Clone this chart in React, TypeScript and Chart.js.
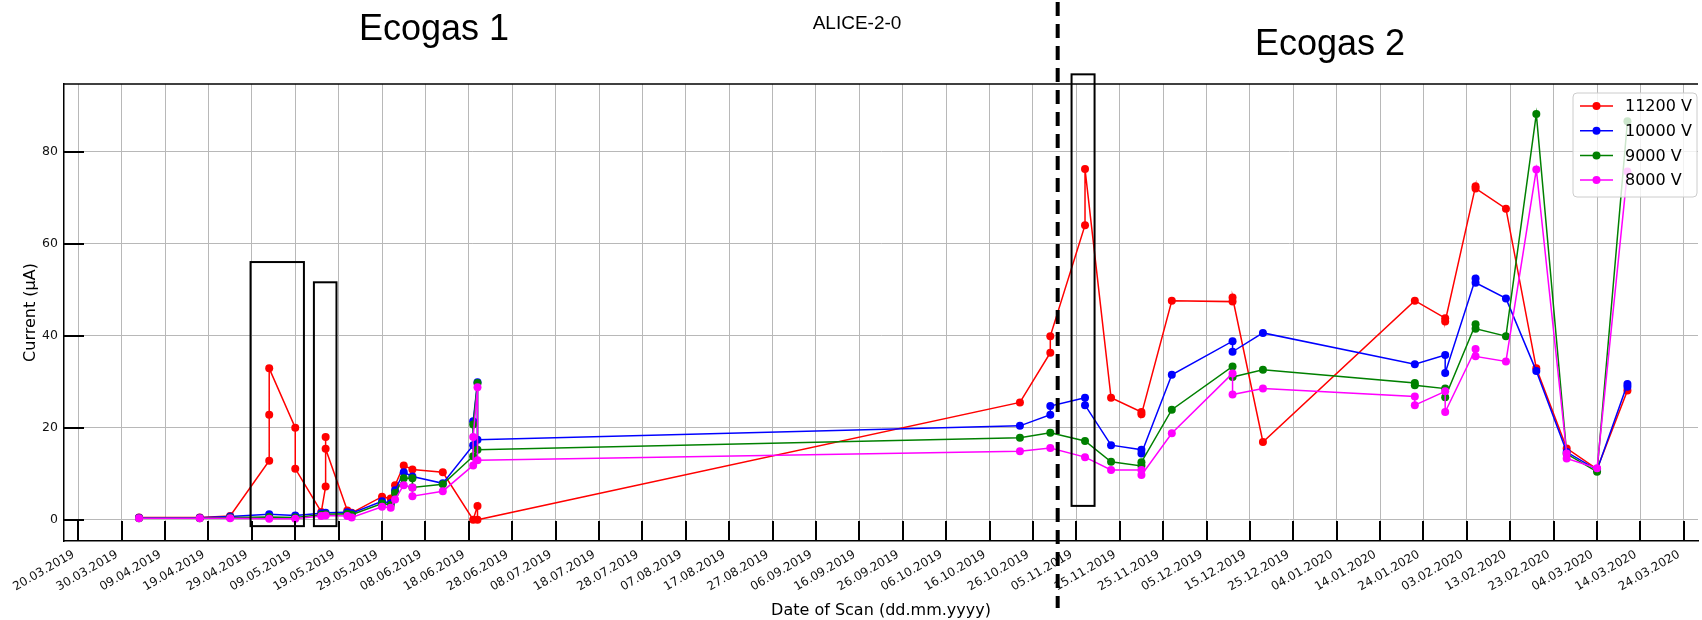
import React, { useEffect, useRef } from "react";
import { Chart, registerables } from "chart.js";

Chart.register(...registerables);

// ---------------- data ----------------
const axisStartDate = "20.03.2019";
const tickStepDays = 10;
const tickCount = 38;
const yTickValues = [0, 20, 40, 60, 80];

const seriesNames = ["11200 V", "10000 V", "9000 V", "8000 V"];
const seriesColors = ["#ff0000", "#0000ff", "#008000", "#ff00ff"];

const dates11200 = [
  "03.04.2019", "17.04.2019", "24.04.2019", "03.05.2019", "03.05.2019", "03.05.2019",
  "09.05.2019", "09.05.2019", "15.05.2019", "16.05.2019", "16.05.2019", "16.05.2019",
  "21.05.2019", "22.05.2019", "29.05.2019", "31.05.2019", "01.06.2019", "03.06.2019",
  "05.06.2019", "12.06.2019", "19.06.2019", "20.06.2019", "20.06.2019", "23.10.2019",
  "30.10.2019", "30.10.2019", "07.11.2019", "07.11.2019", "13.11.2019", "20.11.2019",
  "20.11.2019", "27.11.2019", "11.12.2019", "11.12.2019", "18.12.2019", "22.01.2020",
  "29.01.2020", "29.01.2020", "05.02.2020", "05.02.2020", "12.02.2020", "19.02.2020",
  "26.02.2020", "04.03.2020", "11.03.2020",
];
const values11200 = [
  0.5, 0.5, 0.8, 12.8, 22.8, 32.9,
  20.0, 11.1, 1.7, 7.2, 18.0, 15.4,
  2.0, 1.5, 5.0, 4.6, 7.5, 11.8,
  10.9, 10.3, 0.0, 3.0, 0.0, 25.5,
  36.3, 39.9, 64.0, 76.2, 26.5, 23.4,
  22.9, 47.6, 47.4, 48.3, 16.9, 47.6,
  43.8, 43.1, 72.5, 72.0, 67.6, 32.9,
  15.5, 11.0, 28.1,
];

const dates10000 = [
  "03.04.2019", "17.04.2019", "24.04.2019", "03.05.2019", "09.05.2019", "15.05.2019",
  "16.05.2019", "21.05.2019", "22.05.2019", "29.05.2019", "31.05.2019", "01.06.2019",
  "03.06.2019", "05.06.2019", "12.06.2019", "19.06.2019", "19.06.2019", "20.06.2019",
  "20.06.2019", "23.10.2019", "30.10.2019", "30.10.2019", "07.11.2019", "07.11.2019",
  "13.11.2019", "20.11.2019", "20.11.2019", "27.11.2019", "11.12.2019", "11.12.2019",
  "18.12.2019", "22.01.2020", "29.01.2020", "29.01.2020", "05.02.2020", "05.02.2020",
  "12.02.2020", "19.02.2020", "26.02.2020", "04.03.2020", "11.03.2020", "11.03.2020",
];
const values10000 = [
  0.4, 0.4, 0.7, 1.2, 0.9, 1.4,
  1.5, 1.6, 1.4, 4.0, 3.6, 6.4,
  10.3, 9.4, 7.9, 16.2, 21.4, 29.9,
  17.4, 20.4, 22.8, 24.7, 26.5, 24.9,
  16.2, 15.2, 14.4, 31.5, 38.8, 36.5,
  40.6, 33.8, 35.8, 31.9, 52.4, 51.5,
  48.1, 32.3, 14.7, 10.8, 29.5, 28.9,
];

const dates9000 = [
  "03.04.2019", "17.04.2019", "24.04.2019", "03.05.2019", "09.05.2019", "15.05.2019",
  "16.05.2019", "21.05.2019", "22.05.2019", "29.05.2019", "31.05.2019", "01.06.2019",
  "03.06.2019", "05.06.2019", "05.06.2019", "12.06.2019", "19.06.2019", "19.06.2019",
  "20.06.2019", "20.06.2019", "23.10.2019", "30.10.2019", "07.11.2019", "13.11.2019",
  "20.11.2019", "20.11.2019", "27.11.2019", "11.12.2019", "11.12.2019", "18.12.2019",
  "22.01.2020", "22.01.2020", "29.01.2020", "29.01.2020", "05.02.2020", "05.02.2020",
  "12.02.2020", "19.02.2020", "26.02.2020", "04.03.2020", "11.03.2020",
];
const values9000 = [
  0.3, 0.3, 0.5, 0.6, 0.5, 1.1,
  1.2, 1.3, 1.1, 3.5, 3.2, 5.8,
  9.0, 9.0, 7.0, 7.7, 13.8, 20.7,
  29.7, 15.2, 17.8, 18.9, 17.1, 12.6,
  11.7, 12.5, 23.9, 33.3, 31.0, 32.6,
  29.7, 29.2, 28.5, 26.6, 42.5, 41.5,
  39.9, 88.2, 14.3, 10.4, 86.6,
];

const dates8000 = [
  "03.04.2019", "17.04.2019", "24.04.2019", "03.05.2019", "09.05.2019", "15.05.2019",
  "16.05.2019", "21.05.2019", "22.05.2019", "29.05.2019", "31.05.2019", "01.06.2019",
  "03.06.2019", "05.06.2019", "05.06.2019", "12.06.2019", "19.06.2019", "19.06.2019",
  "20.06.2019", "20.06.2019", "23.10.2019", "30.10.2019", "07.11.2019", "13.11.2019",
  "20.11.2019", "20.11.2019", "27.11.2019", "11.12.2019", "11.12.2019", "18.12.2019",
  "22.01.2020", "22.01.2020", "29.01.2020", "29.01.2020", "05.02.2020", "05.02.2020",
  "12.02.2020", "19.02.2020", "26.02.2020", "26.02.2020", "04.03.2020", "11.03.2020",
];
const values8000 = [
  0.3, 0.3, 0.3, 0.2, 0.2, 0.8,
  0.9, 0.8, 0.5, 2.8, 2.6, 4.4,
  7.5, 7.0, 5.1, 6.2, 11.8, 18.0,
  28.8, 12.9, 14.9, 15.6, 13.6, 10.8,
  10.8, 9.7, 18.8, 31.8, 27.2, 28.5,
  26.8, 24.9, 27.9, 23.4, 37.1, 35.5,
  34.4, 76.1, 14.4, 13.3, 11.2, 75.7,
];

// annotation boxes in data units: [dayFrom, dayTo, valueFrom, valueTo]
const boxDays = [
  [39.7, 52.0, -1.4, 56.0],
  [54.3, 59.5, -1.4, 51.6],
  [228.9, 234.2, 3.0, 96.8],
];
const gasSwitchDay = 225.7;

// ---------------- helpers ----------------
const DAY = 86400000;
const parseDate = (s: string) => {
  const [d, m, y] = s.split(".").map(Number);
  return Date.UTC(y, m - 1, d);
};
const baseMs = parseDate(axisStartDate);
const toDay = (s: string) => (parseDate(s) - baseMs) / DAY;
const fmtDay = (v: number) => {
  const dt = new Date(baseMs + Math.round(v) * DAY);
  const dd = String(dt.getUTCDate()).padStart(2, "0");
  const mm = String(dt.getUTCMonth() + 1).padStart(2, "0");
  return `${dd}.${mm}.${dt.getUTCFullYear()}`;
};
const tickDays = Array.from({ length: tickCount }, (_, i) => i * tickStepDays);

const seriesDates = [dates11200, dates10000, dates9000, dates8000];
const seriesValues = [values11200, values10000, values9000, values8000];

const FONT = "'DejaVu Sans', sans-serif";
const XLABEL_SIZE = 12;
const XLABEL_ROT = (30 * Math.PI) / 180;
const GRID = "#b8b8b8";

const overlayPlugin = {
  id: "overlay",
  afterDatasetsDraw(chart: any) {
    const { ctx, chartArea: a, scales } = chart;
    const x = scales.x;
    const y = scales.y;
    ctx.save();
    ctx.strokeStyle = "#000";
    ctx.lineWidth = 1.5;
    ctx.beginPath();
    ctx.moveTo(a.left, a.top);
    ctx.lineTo(a.right, a.top);
    ctx.stroke();
    ctx.lineWidth = 2;
    ctx.beginPath();
    for (const t of x.ticks) {
      const px = Math.round(x.getPixelForValue(t.value));
      ctx.moveTo(px, a.bottom);
      ctx.lineTo(px, a.bottom - 20);
    }
    for (const t of y.ticks) {
      const py = Math.round(y.getPixelForValue(t.value));
      ctx.moveTo(a.left, py);
      ctx.lineTo(a.left + 20, py);
    }
    ctx.stroke();

    // rotated x tick labels (right/top aligned bounding box, like matplotlib)
    ctx.font = `${XLABEL_SIZE}px ${FONT}`;
    ctx.fillStyle = "#111";
    ctx.textAlign = "center";
    ctx.textBaseline = "middle";
    const cos = Math.cos(XLABEL_ROT);
    const sin = Math.sin(XLABEL_ROT);
    const h = XLABEL_SIZE * 0.9;
    for (const t of x.ticks) {
      const label = fmtDay(t.value);
      const w = ctx.measureText(label).width;
      const W = w * cos + h * sin;
      const H = w * sin + h * cos;
      const px = x.getPixelForValue(t.value) - 2;
      const top = a.bottom + 8;
      ctx.save();
      ctx.translate(px - W / 2, top + H / 2);
      ctx.rotate(-XLABEL_ROT);
      ctx.fillText(label, 0, 0);
      ctx.restore();
    }
    ctx.restore();
  },
  afterDraw(chart: any) {
    const { ctx, scales } = chart;
    const x = scales.x;
    const y = scales.y;
    ctx.save();
    // boxes
    ctx.strokeStyle = "#000";
    ctx.lineWidth = 2;
    for (const [d0, d1, v0, v1] of boxDays) {
      const x0 = x.getPixelForValue(d0);
      const x1 = x.getPixelForValue(d1);
      const y0 = y.getPixelForValue(v1);
      const y1 = y.getPixelForValue(v0);
      ctx.strokeRect(x0, y0, x1 - x0, y1 - y0);
    }
    // dashed divider
    const dx = x.getPixelForValue(gasSwitchDay);
    ctx.lineWidth = 4;
    ctx.setLineDash([14, 8]);
    ctx.beginPath();
    ctx.moveTo(dx, 2);
    ctx.lineTo(dx, 608);
    ctx.stroke();
    ctx.setLineDash([]);

    // texts
    ctx.fillStyle = "#000";
    ctx.textAlign = "center";
    ctx.textBaseline = "alphabetic";
    ctx.font = "36px 'Liberation Sans', Arial, sans-serif";
    ctx.fillText("Ecogas 1", 434, 40);
    ctx.fillText("Ecogas 2", 1330, 55);
    ctx.font = "19px 'Liberation Sans', Arial, sans-serif";
    ctx.fillText("ALICE-2-0", 857, 29);

    // legend
    const lx = 1573, ly = 93, lw = 124, lh = 104;
    ctx.fillStyle = "rgba(255,255,255,0.8)";
    ctx.strokeStyle = "#cccccc";
    ctx.lineWidth = 1;
    ctx.beginPath();
    if (ctx.roundRect) ctx.roundRect(lx, ly, lw, lh, 4);
    else ctx.rect(lx, ly, lw, lh);
    ctx.fill();
    ctx.stroke();
    ctx.font = `16px ${FONT}`;
    ctx.textAlign = "left";
    ctx.textBaseline = "middle";
    seriesNames.forEach((name, i) => {
      const ry = 106 + i * 24.7;
      ctx.strokeStyle = seriesColors[i];
      ctx.lineWidth = 1.5;
      ctx.beginPath();
      ctx.moveTo(1580, ry);
      ctx.lineTo(1613, ry);
      ctx.stroke();
      ctx.fillStyle = seriesColors[i];
      ctx.beginPath();
      ctx.arc(1596.5, ry, 4, 0, Math.PI * 2);
      ctx.fill();
      ctx.fillStyle = "#000";
      ctx.fillText(name, 1625, ry + 1);
    });
    ctx.restore();
  },
};

export default function App() {
  const ref = useRef<HTMLCanvasElement | null>(null);
  useEffect(() => {
    document.body.style.margin = "0";
    const canvas = ref.current;
    if (!canvas) return;
    const datasets = seriesNames.map((name, i) => ({
      label: name,
      data: seriesDates[i].map((d, j) => ({ x: toDay(d), y: seriesValues[i][j] })),
      borderColor: seriesColors[i],
      backgroundColor: seriesColors[i],
      pointBackgroundColor: seriesColors[i],
      pointBorderColor: seriesColors[i],
      pointBorderWidth: 0,
      pointRadius: 4,
      borderWidth: 1.5,
      tension: 0,
      order: 3 - i,
    }));
    const chart = new Chart(canvas, {
      type: "line",
      data: { datasets },
      options: {
        responsive: false,
        animation: false,
        devicePixelRatio: 1,
        layout: { padding: { top: 84, right: 0, bottom: 0, left: 0 } },
        plugins: {
          legend: { display: false },
          tooltip: { enabled: false },
          title: { display: false },
        },
        scales: {
          x: {
            type: "linear",
            min: -3.29,
            max: 373.26,
            afterBuildTicks: (s: any) => {
              s.ticks = tickDays.map((v) => ({ value: v }));
            },
            afterFit: (s: any) => {
              s.height = 79;
            },
            ticks: {
              display: false,
              autoSkip: false,
              callback: (v: any) => fmtDay(Number(v)),
            },
            grid: { color: GRID, lineWidth: 1, drawTicks: false },
            border: { display: true, color: "#000", width: 1.5 },
            title: {
              display: true,
              text: "Date of Scan (dd.mm.yyyy)",
              color: "#000",
              font: { family: FONT, size: 16 },
              padding: { top: 0, bottom: 0 },
            },
          },
          y: {
            type: "linear",
            min: -4.63,
            max: 94.7,
            afterBuildTicks: (s: any) => {
              s.ticks = yTickValues.map((v) => ({ value: v }));
            },
            afterFit: (s: any) => {
              s.width = 64;
            },
            ticks: {
              padding: 6,
              color: "#111",
              font: { family: FONT, size: 12.5 },
            },
            grid: { color: GRID, lineWidth: 1, drawTicks: false },
            border: { display: true, color: "#000", width: 1.5 },
            title: {
              display: true,
              text: "Current (μA)",
              color: "#000",
              font: { family: FONT, size: 16 },
              padding: { top: 21, bottom: 0 },
            },
          },
        },
      },
      plugins: [overlayPlugin],
    } as any);
    return () => chart.destroy();
  }, []);
  return (
    <div style={{ width: 1702, height: 620, background: "#fff" }}>
      <canvas ref={ref} width={1702} height={620} style={{ display: "block" }} />
    </div>
  );
}
